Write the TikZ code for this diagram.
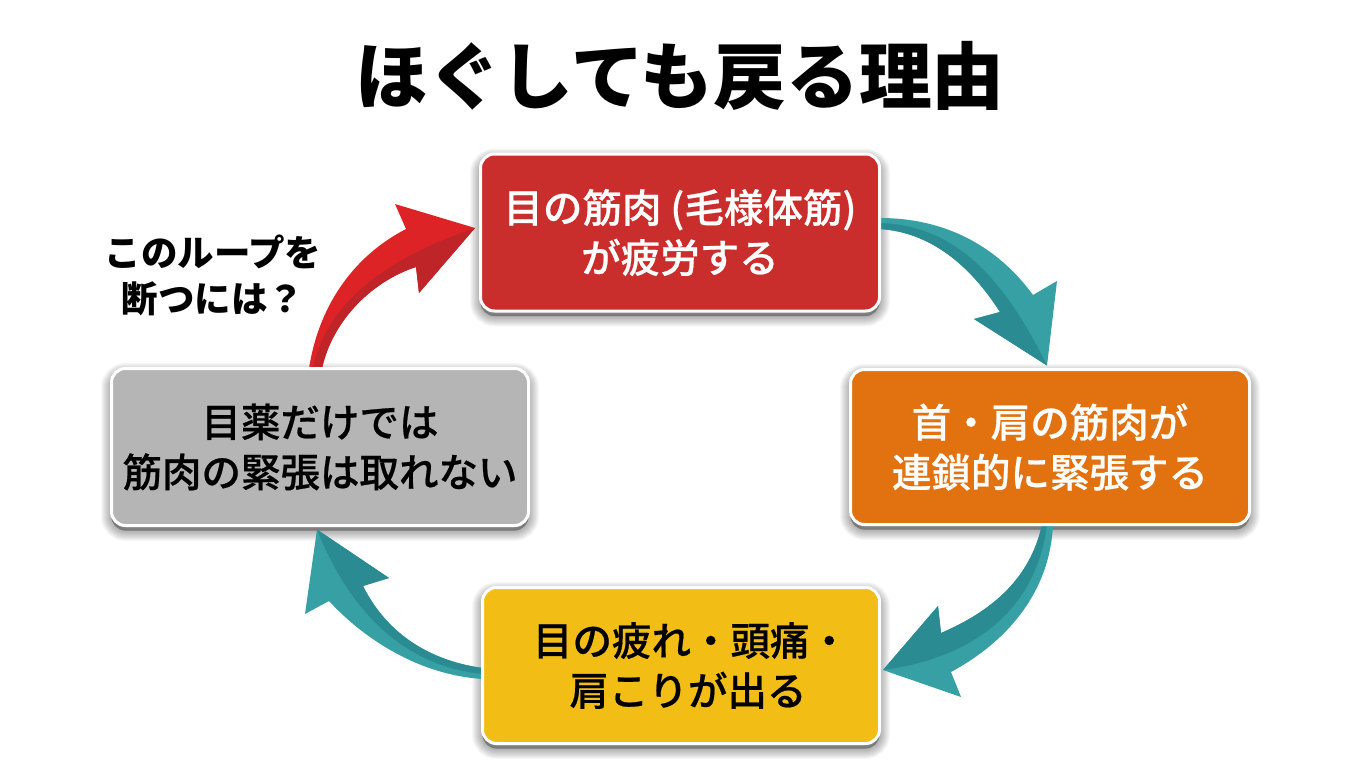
\documentclass[tikz,border=0pt]{standalone}
\usepackage{fontspec}
\newfontfamily\jpfont{Noto Sans CJK JP}
\newfontfamily\jpmedium[FakeBold=0.5]{Noto Sans CJK JP Medium}
\definecolor{boxred}{RGB}{201, 45, 44}
\definecolor{boxorange}{RGB}{226, 113, 15}
\definecolor{boxyellow}{RGB}{242, 190, 22}
\definecolor{boxgray}{RGB}{181, 181, 181}
\definecolor{tealdark}{RGB}{42, 140, 146}
\definecolor{teallight}{RGB}{54, 160, 165}
\definecolor{reddark}{RGB}{190, 36, 40}
\definecolor{redlight}{RGB}{221, 35, 38}
\usetikzlibrary{backgrounds}
\tikzset{
  stagebox/.style={draw=white, line width=3pt, rounded corners=14pt, outer sep=0pt, minimum height=157pt, align=center,
    font=\jpmedium\fontsize{39.5}{50}\selectfont},
}

\begin{document}
\begin{tikzpicture}[x=1pt, y=-1pt]
  \useasboundingbox (0,0) rectangle (1360,784);

  % title and question
  \node (title) [font=\jpfont\bfseries\fontsize{72.8}{80}\selectfont] at (680, 76) {ほぐしても戻る理由};
  \node (question) [align=center, font=\jpfont\bfseries\fontsize{36.5}{46}\selectfont] at (213, 275) {このループを\\断つには？};

  % stages
  \node (eyes) [stagebox, fill=boxred, text=white, minimum width=399pt] at (680, 232.5) {目の筋肉 (毛様体筋)\\が疲労する};
  \node (neck) [stagebox, fill=boxorange, text=white, minimum width=399pt, minimum height=155pt] at (1050, 447) {首・肩の筋肉が\\連鎖的に緊張する};
  \node (pain) [stagebox, fill=boxyellow, text=black, minimum width=397pt, minimum height=156pt] at (681, 665.5) {\hspace*{20pt}目の疲れ・頭痛・\\\hspace*{14pt}肩こりが出る};
  \node (drops) [stagebox, fill=boxgray, text=black, minimum width=417pt] at (320, 447) {目薬だけでは\\筋肉の緊張は取れない};

  \begin{scope}[on background layer]
    \fill[white] (0,0) rectangle (1360,784);

    % shadows
    \foreach \b in {eyes, neck, pain, drops}
      \foreach \w in {1,3,...,21}
        \draw[black, opacity=0.03, fill, line width=\w pt, rounded corners=14pt]
          ([yshift=-5pt]\b.north west) rectangle ([yshift=-5pt]\b.south east);

    % red arrow
    \fill[redlight] ([xshift=-11pt]drops.north) .. controls (318,310) and (350,258) .. (406,229)
      -- (395,204) -- ([xshift=-5.5pt,yshift=4.5pt]eyes.west) -- (419,293) -- (416,267)
      .. controls (375,280) and (333,318) .. ([xshift=2pt]drops.north) -- cycle;
    \fill[reddark] ([xshift=-7pt]drops.north) .. controls (325,310) and (375,262) .. ([xshift=-5.5pt,yshift=4.5pt]eyes.west)
      -- (419,293) -- (416,267)
      .. controls (375,280) and (333,318) .. ([xshift=2pt]drops.north) -- cycle;

    % eyes to neck
    \fill[teallight] ([yshift=14.5pt]eyes.east) .. controls (950,218) and (1000,250) .. (1033,295)
      -- (1057,281) -- ([xshift=-3pt,yshift=4pt]neck.north) -- (974,319) -- (1000,312)
      .. controls (970,265) and (930,232) .. ([yshift=3.5pt]eyes.east) -- cycle;
    \fill[tealdark] ([yshift=9.5pt]eyes.east) .. controls (950,225) and (1000,270) .. ([xshift=-3pt,yshift=4pt]neck.north)
      -- (974,319) -- (1000,312)
      .. controls (970,265) and (930,232) .. ([yshift=3.5pt]eyes.east) -- cycle;

    % neck to pain
    \fill[teallight] ([xshift=3pt]neck.south) .. controls (1050,590) and (1010,640) .. (951,672)
      -- (961,697) -- ([xshift=3.5pt,yshift=-4.5pt]pain.east) -- (938,606) -- (941,633)
      .. controls (990,612) and (1030,580) .. ([xshift=-8pt]neck.south) -- cycle;
    \fill[tealdark] ([xshift=-3pt]neck.south) .. controls (1035,620) and (960,660) .. ([xshift=3.5pt,yshift=-4.5pt]pain.east)
      -- (938,606) -- (941,633)
      .. controls (990,612) and (1030,580) .. ([xshift=-8pt]neck.south) -- cycle;

    % pain to drops
    \fill[teallight] ([yshift=-13.5pt]pain.west) .. controls (420,675) and (365,640) .. (329,601)
      -- (305,614) -- ([xshift=-3pt,yshift=-4pt]drops.south) -- (389,578) -- (363,586)
      .. controls (385,630) and (425,660) .. ([yshift=-2.5pt]pain.west) -- cycle;
    \fill[tealdark] ([yshift=-8.5pt]pain.west) .. controls (395,665) and (345,600) .. ([xshift=-3pt,yshift=-4pt]drops.south)
      -- (389,578) -- (363,586)
      .. controls (385,630) and (425,660) .. ([yshift=-2.5pt]pain.west) -- cycle;
  \end{scope}
\end{tikzpicture}
\end{document}
